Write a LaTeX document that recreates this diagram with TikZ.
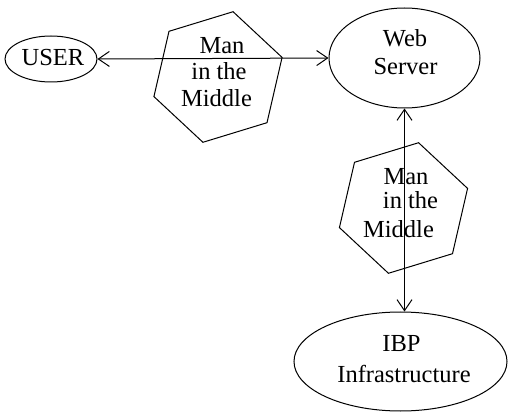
\documentclass[tikz,border=0pt]{standalone}
\usepackage{fontspec}
\setmainfont{Liberation Serif}
\usetikzlibrary{shapes.geometric,arrows.meta}
\begin{document}
\begin{tikzpicture}[x=1pt,y=-1pt,line width=1pt,
  oval/.style={draw,ellipse,inner sep=0pt},
  hexa/.style={draw,regular polygon,regular polygon sides=6,minimum size=134pt,inner sep=0pt,shape border rotate=17},
  lbl/.style={anchor=base,inner sep=0pt,font=\fontsize{24.5}{28}\selectfont},
  link/.style={{Straight Barb[length=11pt,width=15pt]}-{Straight Barb[length=11pt,width=15pt]}}]
\useasboundingbox (0,0) rectangle (509,414);
% shapes
\node[oval,minimum width=92pt,minimum height=46pt] (user) at (51,59) {};
\node[oval,minimum width=151pt,minimum height=100pt] (web) at (404.5,58) {};
\node[oval,minimum width=213pt,minimum height=99pt] (ibp) at (400.5,361.5) {};
\node[hexa] (mitm1) at (218,77) {};
\node[hexa] (mitm2) at (403.5,208) {};
% texts
\node[lbl] (tuser) at (53,66) {USER};
\node[lbl] (tweb1) at (405,47) {Web};
\node[lbl] (tweb2) at (405.5,75) {Server};
\node[lbl] (tibp1) at (401.5,352) {IBP};
\node[lbl] (tibp2) at (404,382) {Infrastructure};
\node[lbl] (ta1) at (222,53.3) {Man};
\node[lbl] (ta2) at (219,80) {in the};
\node[lbl] (ta3) at (216.5,107) {Middle};
\node[lbl] (tb1) at (406,185) {Man};
\node[lbl] (tb2) at (410.5,209) {in the};
\node[lbl] (tb3) at (398.5,238) {Middle};
% connectors
\draw[link] (user.east) -- (web.west);
\draw[link] (web.south) -- (web.south |- ibp.north);
\end{tikzpicture}
\end{document}
